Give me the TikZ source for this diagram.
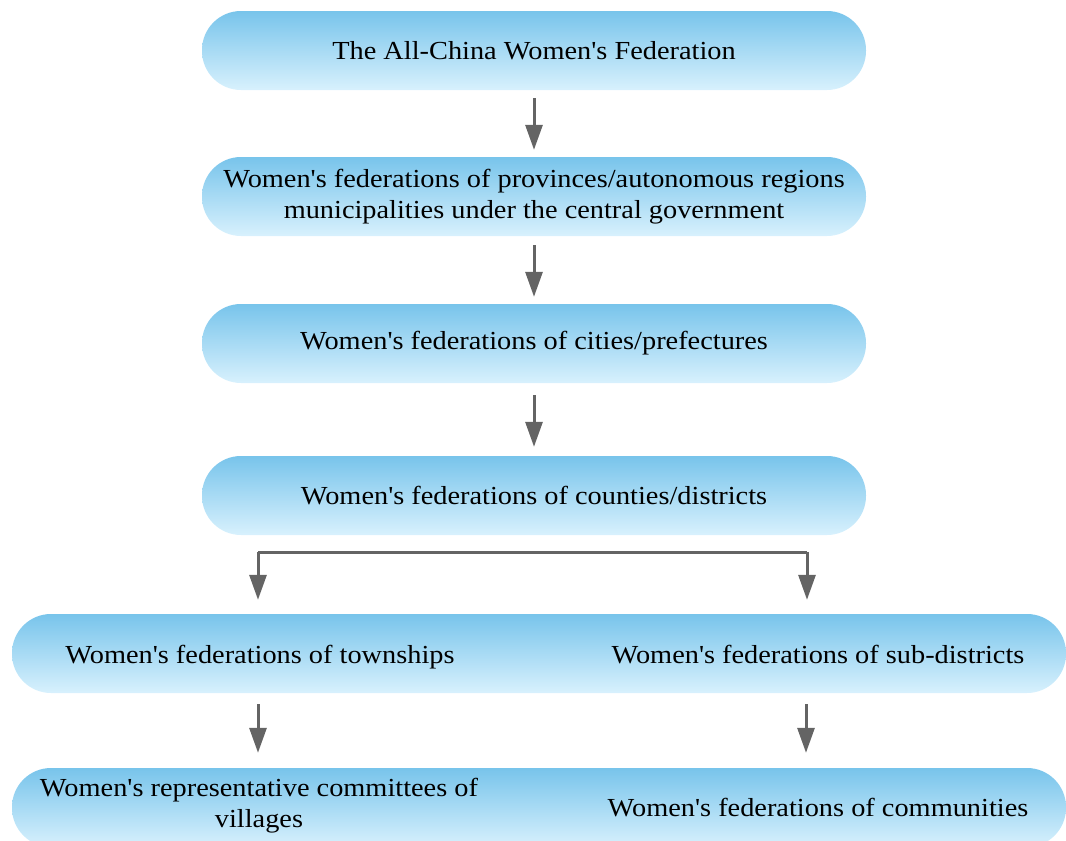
\documentclass[tikz,border=0pt]{standalone}
\usepackage{fontspec}
\setmainfont[Ligatures=TeXOff, FakeStretch=1.09]{Liberation Serif}
\usetikzlibrary{arrows.meta}
\definecolor{boxtop}{RGB}{120,196,235}
\definecolor{boxbot}{RGB}{216,241,253}
\definecolor{arrgray}{RGB}{100,100,100}
\tikzset{
  orgbox/.style={rounded corners=39pt, top color=boxtop, bottom color=boxbot, draw=none,
    minimum height=79pt, inner sep=0pt, align=center},
  lbl/.style={align=center, inner sep=0pt},
  conn/.style={draw=arrgray, line width=3pt},
  arr/.style={conn, -{Triangle[width=17pt,length=25pt]}},
}
\begin{document}
\begin{tikzpicture}[x=1pt,y=-1pt, font=\fontsize{26}{31}\selectfont]
\useasboundingbox (0,0) rectangle (1066,841);
\node[orgbox, minimum width=664pt] (b1) at (534,50.5) {The All-China Women's Federation};
\node[orgbox, minimum width=664pt] (b2) at (534,196.5) {Women's federations of provinces/autonomous regions\\municipalities under the central government};
\node[orgbox, minimum width=664pt] (b3) at (534,343.5) {Women's federations of cities/prefectures};
\node[orgbox, minimum width=664pt] (b4) at (534,495.5) {Women's federations of counties/districts};
\node[orgbox, minimum width=1054pt] (b5) at (539,653.5) {};
\node[orgbox, minimum width=1054pt] (b6) at (539,807.5) {};
\node[lbl, anchor=base] (t5l) at (260,663) {Women's federations of townships};
\node[lbl, anchor=base] (t5r) at (818,663) {Women's federations of sub-districts};
\node[lbl] (t6l) at (259,806) {Women's representative committees of\\villages};
\node[lbl, anchor=base] (t6r) at (818,816) {Women's federations of communities};
\draw[arr, shorten <=8pt, shorten >=7pt] (b1.south) -- (b2.north);
\draw[arr, shorten <=9pt, shorten >=7pt] (b2.south) -- (b3.north);
\draw[arr, shorten <=12pt, shorten >=9pt] (b3.south) -- (b4.north);
\coordinate (bl) at (258,552);
\coordinate (br) at (807,552);
\draw[conn] (bl) -- (br);
\draw[arr, shorten >=14pt] (bl) -- (bl |- b5.north);
\draw[arr, shorten >=14pt] (br) -- (br |- b5.north);
\coordinate (cl) at (258,704);
\coordinate (cr) at (806,704);
\draw[arr, shorten >=15pt] (cl) -- (cl |- b6.north);
\draw[arr, shorten >=15pt] (cr) -- (cr |- b6.north);
\end{tikzpicture}
\end{document}
